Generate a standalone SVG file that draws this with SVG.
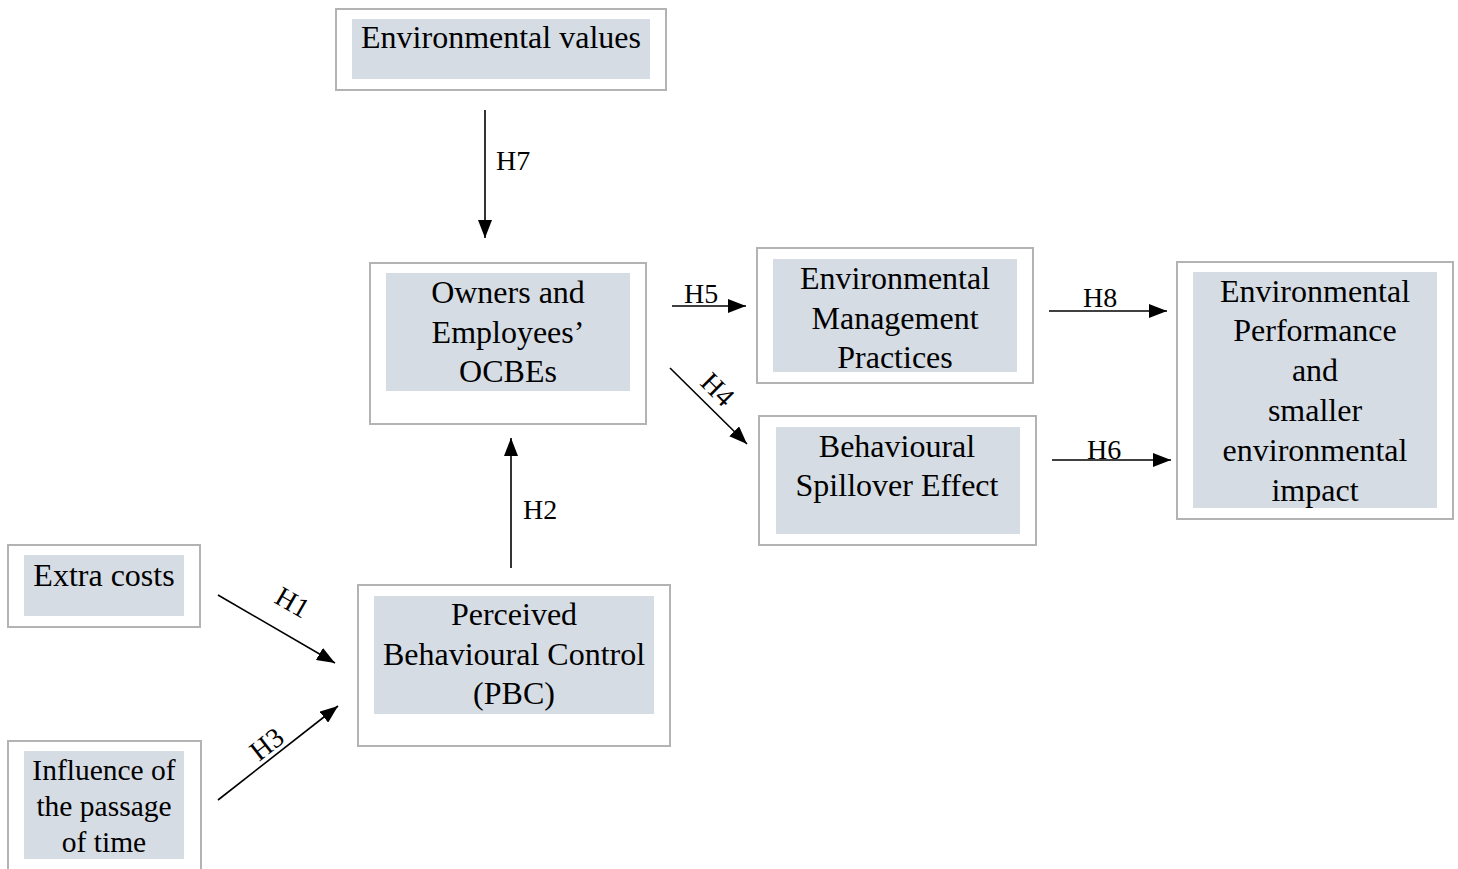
<svg xmlns="http://www.w3.org/2000/svg" width="1458" height="869" viewBox="0 0 1458 869">
<defs>
<marker id="ah" viewBox="0 0 18 14" refX="18" refY="7" markerWidth="18" markerHeight="14" markerUnits="userSpaceOnUse" orient="auto">
<path d="M0,0 L18,7 L0,14 Z" fill="#000"/>
</marker>
</defs>
<style>
.outer{fill:#fff;stroke:#b3b3b3;stroke-width:2}
.inner{fill:#d6dce4}
.t{font-size:32px;fill:#000;text-anchor:middle}
.s{font-size:29.5px}
.lbl{font-size:28px;fill:#000}
.c{stroke:#000;stroke-width:1.6;fill:none;marker-end:url(#ah)}
</style>
<rect width="1458" height="869" fill="#fff"/>
<g font-family="'Liberation Serif', 'Times New Roman', serif">
<g id="env-values">
<rect class="outer" x="336" y="9" width="330" height="81"/>
<rect class="inner" x="352" y="19" width="298" height="60"/>
<text class="t" x="501" y="48">Environmental values</text>
</g>
<g id="ocbe">
<rect class="outer" x="370" y="263" width="276" height="161"/>
<rect class="inner" x="386" y="273" width="244" height="118"/>
<text class="t" x="508" y="303">Owners and</text>
<text class="t" x="508" y="343">Employees’</text>
<text class="t" x="508" y="382">OCBEs</text>
</g>
<g id="emp">
<rect class="outer" x="757" y="248" width="276" height="135"/>
<rect class="inner" x="773" y="259" width="244" height="113"/>
<text class="t" x="895" y="289">Environmental</text>
<text class="t" x="895" y="329">Management</text>
<text class="t" x="895" y="368">Practices</text>
</g>
<g id="bse">
<rect class="outer" x="759" y="416" width="277" height="129"/>
<rect class="inner" x="776" y="427" width="244" height="107"/>
<text class="t" x="897" y="457">Behavioural</text>
<text class="t" x="897" y="496">Spillover Effect</text>
</g>
<g id="perf">
<rect class="outer" x="1177" y="262" width="276" height="257"/>
<rect class="inner" x="1193" y="272" width="244" height="236"/>
<text class="t" x="1315" y="302">Environmental</text>
<text class="t" x="1315" y="341">Performance</text>
<text class="t" x="1315" y="381">and</text>
<text class="t" x="1315" y="421">smaller</text>
<text class="t" x="1315" y="461">environmental</text>
<text class="t" x="1315" y="501">impact</text>
</g>
<g id="pbc">
<rect class="outer" x="358" y="585" width="312" height="161"/>
<rect class="inner" x="374" y="596" width="280" height="118"/>
<text class="t" x="514" y="625">Perceived</text>
<text class="t" x="514" y="665">Behavioural Control</text>
<text class="t" x="514" y="704">(PBC)</text>
</g>
<g id="extra-costs">
<rect class="outer" x="8" y="545" width="192" height="82"/>
<rect class="inner" x="24" y="555" width="160" height="61"/>
<text class="t" x="104" y="586">Extra costs</text>
</g>
<g id="time">
<rect class="outer" x="8" y="741" width="193" height="140"/>
<rect class="inner" x="24" y="751" width="160" height="108"/>
<text class="t s" x="104" y="780">Influence of</text>
<text class="t s" x="104" y="816">the passage</text>
<text class="t s" x="104" y="852">of time</text>
</g>
<g id="connectors">
<line class="c" x1="485" y1="110" x2="485" y2="238"/>
<line class="c" x1="511" y1="568" x2="511" y2="438"/>
<line class="c" x1="672" y1="306" x2="746" y2="306"/>
<line class="c" x1="670" y1="368" x2="747" y2="444"/>
<line class="c" x1="1049" y1="311" x2="1167" y2="311"/>
<line class="c" x1="1052" y1="460" x2="1171" y2="460"/>
<line class="c" x1="218" y1="595" x2="335" y2="663"/>
<line class="c" x1="218" y1="800" x2="338" y2="706"/>
<text class="lbl" x="496" y="170">H7</text>
<text class="lbl" x="523" y="519">H2</text>
<text class="lbl" x="684" y="303">H5</text>
<text class="lbl" x="1083" y="307">H8</text>
<text class="lbl" x="1087" y="459">H6</text>
<text class="lbl" x="0" y="0" transform="translate(699,384) rotate(45)">H4</text>
<text class="lbl" x="0" y="0" transform="translate(273,602) rotate(30)">H1</text>
<text class="lbl" x="0" y="0" transform="translate(259,762) rotate(-38)">H3</text>
</g>
</g>
</svg>
